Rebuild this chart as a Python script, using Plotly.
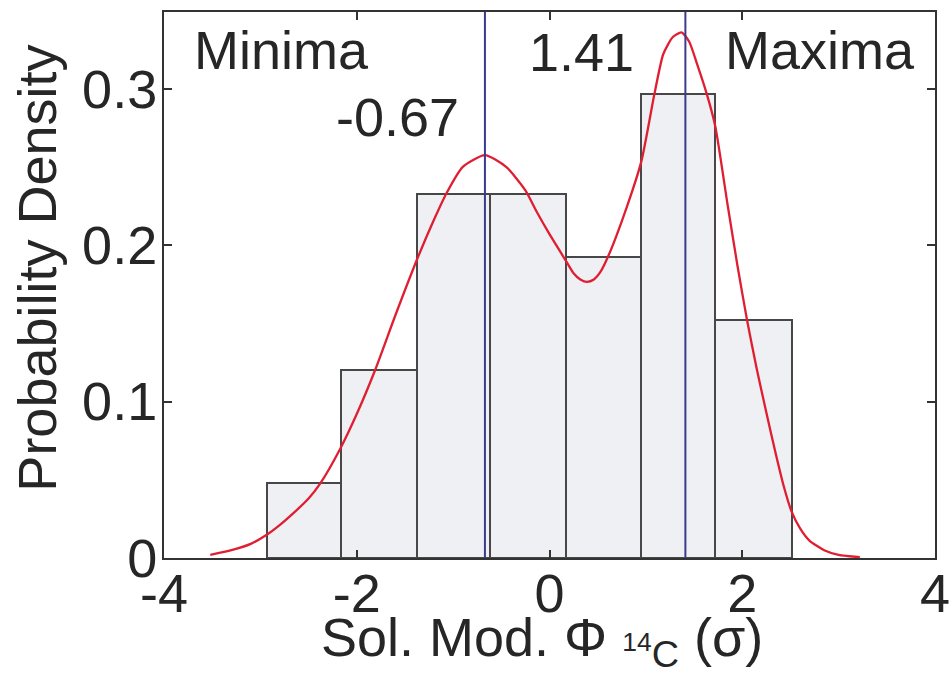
import plotly.graph_objects as go

# Histogram (bin edges and densities)
bin_edges = [-2.93, -2.165, -1.38, -0.617, 0.171, 0.949, 1.716, 2.513]
densities = [0.0477, 0.1204, 0.2327, 0.2327, 0.1927, 0.2966, 0.1523]

# Smoothed density curve
curve_x = [-3.52, -3.30, -3.10, -2.93, -2.80, -2.66, -2.50, -2.38, -2.17, -2.00,
           -1.81, -1.60, -1.38, -1.20, -1.07, -0.90, -0.67, -0.45, -0.25, -0.13,
           0.00, 0.17, 0.25, 0.32, 0.39, 0.46, 0.53, 0.61, 0.80, 0.955, 1.09, 1.18,
           1.28, 1.37, 1.45, 1.53, 1.63, 1.72, 1.85, 1.95, 2.05, 2.15,
           2.25, 2.35, 2.43, 2.51, 2.60, 2.70, 2.85, 3.00, 3.22]
curve_y = [0.002, 0.005, 0.009, 0.015, 0.021, 0.0285, 0.038, 0.0475, 0.070, 0.092,
           0.120, 0.155, 0.190, 0.216, 0.233, 0.250, 0.2575, 0.250, 0.235, 0.221,
           0.207, 0.190, 0.182, 0.178, 0.1765, 0.178, 0.183, 0.193, 0.224, 0.254, 0.297, 0.322,
           0.333, 0.336, 0.330, 0.316, 0.297, 0.276, 0.225, 0.187, 0.152, 0.121,
           0.093, 0.066, 0.046, 0.030, 0.019, 0.011, 0.005, 0.002, 0.0005]

# Marked extrema
line_values = [-0.67, 1.41]
line_labels = ["-0.67", "1.41"]

x_ticks = [-4, -2, 0, 2, 4]
y_ticks = [0, 0.1, 0.2, 0.3]
y_ticklabels = ["0", "0.1", "0.2", "0.3"]

centers = [(a + b) / 2 for a, b in zip(bin_edges[:-1], bin_edges[1:])]
widths = [b - a for a, b in zip(bin_edges[:-1], bin_edges[1:])]

FONT = "Liberation Sans, Arial, Helvetica, sans-serif"
TXT = "#262626"
FS = 54

fig = go.Figure()
fig.add_trace(go.Bar(
    x=centers, y=densities, width=widths,
    marker=dict(color="#eef0f3", line=dict(color="#474747", width=2)),
    showlegend=False, hoverinfo="skip"))

for v in line_values:
    fig.add_shape(type="line", x0=v, x1=v, y0=0, y1=1, xref="x", yref="paper",
                  line=dict(color="#3b3b8e", width=2))

fig.add_trace(go.Scatter(
    x=curve_x, y=curve_y, mode="lines",
    line=dict(color="#e01e32", width=2.3, shape="spline", smoothing=0.6),
    showlegend=False, hoverinfo="skip"))

ann_font = dict(family=FONT, size=FS, color=TXT)
fig.add_annotation(text="Minima", x=0.036, y=0.930, xref="paper", yref="paper",
                   xanchor="left", yanchor="middle", showarrow=False, font=ann_font)
fig.add_annotation(text="Maxima", x=0.977, y=0.930, xref="paper", yref="paper",
                   xanchor="right", yanchor="middle", showarrow=False, font=ann_font)
fig.add_annotation(text=line_labels[0], x=line_values[0], y=0.807, xref="x", yref="paper",
                   xanchor="right", yanchor="middle", xshift=-24, showarrow=False, font=ann_font)
fig.add_annotation(text=line_labels[1], x=line_values[1], y=0.926, xref="x", yref="paper",
                   xanchor="right", yanchor="middle", xshift=-49, showarrow=False, font=ann_font)

# Axis titles
fig.add_annotation(text="Probability Density", x=-0.164, y=0.531, xref="paper", yref="paper",
                   xanchor="center", yanchor="middle", textangle=-90, showarrow=False, font=ann_font)
fig.add_annotation(text="Sol. Mod. Φ <sub><sup>14</sup>C</sub> (σ)", x=0.49, y=-0.086,
                   xref="paper", yref="paper", xanchor="center", yanchor="top",
                   showarrow=False, font=ann_font)

axis_common = dict(showline=True, linecolor="#333333", linewidth=2, mirror="ticks",
                   ticks="inside", ticklen=8, tickcolor="#333333", tickwidth=1.5,
                   showgrid=False, zeroline=False, automargin=False,
                   ticklabeloverflow="allow",
                   tickfont=dict(family=FONT, size=FS, color=TXT))

fig.update_xaxes(range=[-4, 4], tickvals=x_ticks, ticktext=[str(t) for t in x_ticks],
                 ticklabelstandoff=-13, **axis_common)
fig.update_yaxes(range=[0, 0.349], tickvals=y_ticks, ticktext=y_ticklabels,
                 ticklabelstandoff=-6, **axis_common)

fig.update_layout(width=950, height=695, margin=dict(l=164, r=15, t=12, b=137),
                  paper_bgcolor="white", plot_bgcolor="white", bargap=0)

# Remove the default page margin so the figure fills the window exactly
fig.write_html("out.html", config={"displayModeBar": False},
               post_script="document.body.style.margin='0';document.body.style.overflow='hidden';")
